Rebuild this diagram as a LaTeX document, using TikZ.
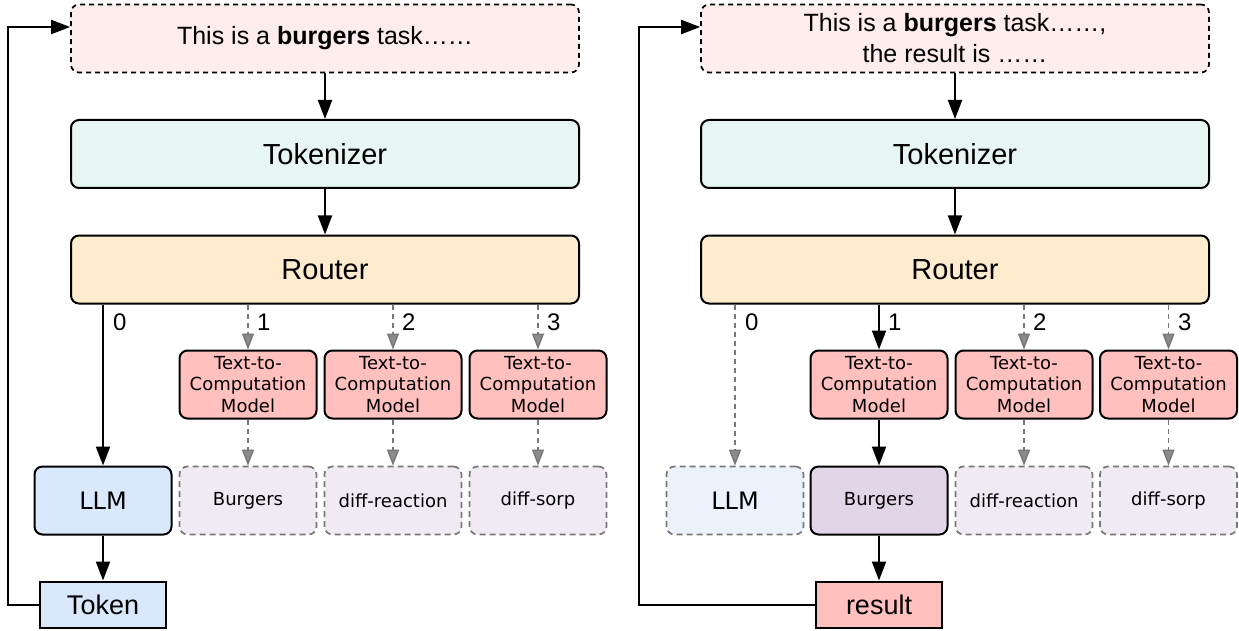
\documentclass[tikz,border=0pt]{standalone}
\usepackage{fontspec}
\setmainfont{Liberation Sans}
\newfontfamily\dejavu{DejaVu Sans}
\usetikzlibrary{arrows.meta}
\definecolor{inputfill}{RGB}{255,236,236}
\definecolor{tokfill}{RGB}{232,246,243}
\definecolor{routfill}{RGB}{255,235,206}
\definecolor{tcfill}{RGB}{255,192,190}
\definecolor{llmfill}{RGB}{218,232,252}
\definecolor{llmlight}{RGB}{235,242,252}
\definecolor{pdefill}{RGB}{240,235,242}
\definecolor{pdesel}{RGB}{225,213,231}
\definecolor{dgray}{RGB}{120,120,120}
\tikzset{
  bigbox/.style={draw, line width=2pt, rounded corners=8pt, minimum width=508pt, minimum height=68pt, inner sep=0pt, font=\fontsize{29}{34}\selectfont},
  inbox/.style={draw, dash pattern=on 5pt off 4pt, line width=1.7pt, rounded corners=8pt, fill=inputfill, minimum width=508pt, minimum height=68pt, inner sep=0pt, align=center, font=\fontsize{25}{31}\selectfont},
  tcbox/.style={draw, line width=2pt, rounded corners=8pt, fill=tcfill, minimum width=137pt, minimum height=68pt, inner sep=0pt, align=center, font=\dejavu\fontsize{18}{21.5}\selectfont},
  pdebox/.style={draw=dgray, dash pattern=on 6pt off 4pt, line width=1.7pt, rounded corners=8pt, fill=pdefill, minimum width=137pt, minimum height=68pt, inner sep=0pt, font=\dejavu\fontsize{18}{22}\selectfont},
  selbox/.style={draw, line width=2pt, rounded corners=8pt, minimum width=137pt, minimum height=68pt, inner sep=0pt, font=\dejavu\fontsize{18}{22}\selectfont},
  outbox/.style={draw, line width=2pt, minimum width=126pt, minimum height=46pt, inner sep=0pt, font=\fontsize{27}{32}\selectfont},
  arr/.style={line width=2pt, -{Triangle[length=19pt,width=14pt]}},
  darr/.style={draw=dgray, line width=1.5pt, dash pattern=on 5pt off 4pt, -{Triangle[length=16pt,width=12pt,fill=dgray!85]}},
  loop/.style={line width=2pt},
  lbl/.style={anchor=west, inner sep=0pt, font=\fontsize{24}{28}\selectfont}
}
\begin{document}
\begin{tikzpicture}[x=1pt,y=-1pt]
\useasboundingbox (0,0) rectangle (1239,631);

% ---------- left panel ----------
\node[inbox] (in1) at (325,38.5) {This is a \textbf{burgers} task……};
\node[bigbox, fill=tokfill] (tok1) at (325,154) {Tokenizer};
\node[bigbox, fill=routfill] (rt1) at (325,269.5) {Router};
\node[tcbox] (tca1) at (248,384.5) {Text-to-\\Computation\\Model};
\node[tcbox] (tcb1) at (393,384.5) {Text-to-\\Computation\\Model};
\node[tcbox] (tcc1) at (538,384.5) {Text-to-\\Computation\\Model};
\node[selbox, fill=llmfill, font=\dejavu\fontsize{24}{28}\selectfont] (llm1) at (103,500.5) {LLM};
\node[pdebox] (bur1) at (248,500.5) {Burgers};
\node[pdebox] (dr1) at (393,500.5) {diff-reaction};
\node[pdebox] (ds1) at (538,500.5) {diff-sorp};
\node[outbox, fill=llmfill] (tk1) at (103,604.5) {Token};
\coordinate (lp1) at (8,27);

\draw[arr] (in1) -- (tok1);
\draw[arr] (tok1) -- (rt1);
\draw[arr] (rt1.south -| llm1) -- (llm1);
\draw[darr] (rt1.south -| tca1) -- (tca1);
\draw[darr] (rt1.south -| tcb1) -- (tcb1);
\draw[darr] (rt1.south -| tcc1) -- (tcc1);
\draw[darr] (tca1) -- (bur1);
\draw[darr] (tcb1) -- (dr1);
\draw[darr] (tcc1) -- (ds1);
\draw[arr] (llm1) -- (tk1);
\draw[loop, -{Triangle[length=19pt,width=14pt]}] (tk1.west) -| (lp1) -- (lp1 -| in1.west);

\node[lbl] (l10) at (113,322) {0};
\node[lbl] (l11) at (257,322) {1};
\node[lbl] (l12) at (402,322) {2};
\node[lbl] (l13) at (547,322) {3};

% ---------- right panel ----------
\node[inbox] (in2) at (955,38.5) {This is a \textbf{burgers} task……,\\the result is ……};
\node[bigbox, fill=tokfill] (tok2) at (955,154) {Tokenizer};
\node[bigbox, fill=routfill] (rt2) at (955,269.5) {Router};
\node[tcbox] (tca2) at (879,384.5) {Text-to-\\Computation\\Model};
\node[tcbox] (tcb2) at (1024,384.5) {Text-to-\\Computation\\Model};
\node[tcbox] (tcc2) at (1168.5,384.5) {Text-to-\\Computation\\Model};
\node[pdebox, fill=llmlight, font=\dejavu\fontsize{24}{28}\selectfont] (llm2) at (735,500.5) {LLM};
\node[selbox, fill=pdesel] (bur2) at (879,500.5) {Burgers};
\node[pdebox] (dr2) at (1024,500.5) {diff-reaction};
\node[pdebox] (ds2) at (1168.5,500.5) {diff-sorp};
\node[outbox, fill=tcfill] (res2) at (879,604.5) {result};
\coordinate (lp2) at (638.5,27);

\draw[arr] (in2) -- (tok2);
\draw[arr] (tok2) -- (rt2);
\draw[darr] (rt2.south -| llm2) -- (llm2);
\draw[arr] (rt2.south -| tca2) -- (tca2);
\draw[darr] (rt2.south -| tcb2) -- (tcb2);
\draw[darr] (rt2.south -| tcc2) -- (tcc2);
\draw[arr] (tca2) -- (bur2);
\draw[darr] (tcb2) -- (dr2);
\draw[darr] (tcc2) -- (ds2);
\draw[arr] (bur2) -- (res2);
\draw[loop, -{Triangle[length=19pt,width=14pt]}] (res2.west) -| (lp2) -- (lp2 -| in2.west);

\node[lbl] (l20) at (745,322) {0};
\node[lbl] (l21) at (888,322) {1};
\node[lbl] (l22) at (1033,322) {2};
\node[lbl] (l23) at (1178,322) {3};
\end{tikzpicture}
\end{document}
